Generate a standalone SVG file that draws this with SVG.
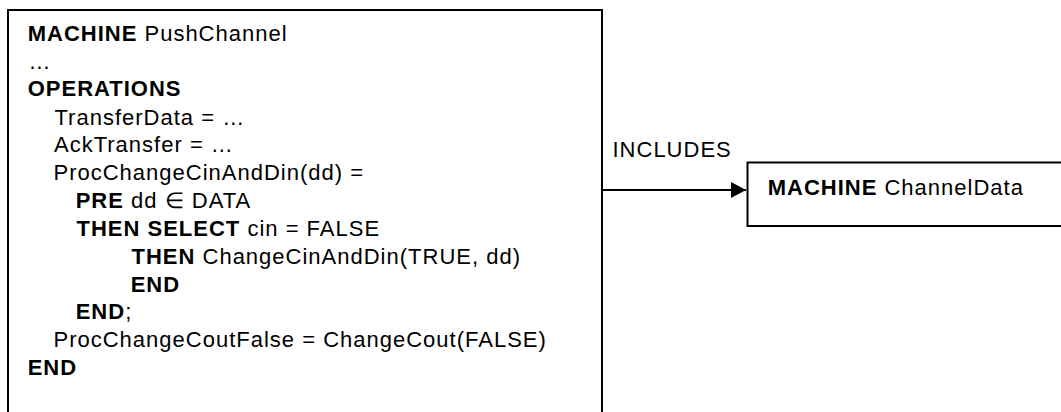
<svg xmlns="http://www.w3.org/2000/svg" width="1061" height="412" viewBox="0 0 1061 412">
  <style>
    .box { fill: #ffffff; stroke: #000000; stroke-width: 2; }
    .t { font-family: "Liberation Sans", Arial, sans-serif; font-size: 22px; letter-spacing: 1px; fill: #000000; }
    .b { font-weight: bold; }
    .edge { stroke: #000000; stroke-width: 2; fill: none; }
  </style>
  <defs>
    <marker id="arrow" markerUnits="userSpaceOnUse" markerWidth="16" markerHeight="16" refX="15" refY="8" orient="auto">
      <path d="M0,0 L15,8 L0,16 Z" fill="#000000"/>
    </marker>
  </defs>

  <rect width="1061" height="412" fill="#ffffff"/>

  <!-- PushChannel machine -->
  <g id="push-channel">
    <rect class="box" x="8" y="10" width="594" height="440"/>
    <text class="t" x="27.7" y="41"><tspan class="b">MACHINE</tspan> PushChannel</text>
    <text class="t" x="28.5" y="69">…</text>
    <text class="t b" x="27.7" y="96">OPERATIONS</text>
    <text class="t" x="54.5" y="124.5">TransferData = …</text>
    <text class="t" x="54" y="152">AckTransfer = …</text>
    <text class="t" x="53.5" y="180">ProcChangeCinAndDin(dd) =</text>
    <text class="t" x="75.7" y="207.5"><tspan class="b">PRE</tspan> dd ∈ DATA</text>
    <text class="t" x="76.5" y="235.5"><tspan class="b">THEN SELECT</tspan> cin = FALSE</text>
    <text class="t" x="131.5" y="263.5"><tspan class="b">THEN</tspan> ChangeCinAndDin(TRUE, dd)</text>
    <text class="t b" x="130.7" y="291.5">END</text>
    <text class="t" x="75.7" y="319"><tspan class="b">END</tspan>;</text>
    <text class="t" x="53.5" y="347">ProcChangeCoutFalse = ChangeCout(FALSE)</text>
    <text class="t b" x="27.7" y="375">END</text>
  </g>

  <!-- ChannelData machine -->
  <g id="channel-data">
    <rect class="box" x="747.5" y="162.5" width="340" height="63.5"/>
    <text class="t" x="767.7" y="195"><tspan class="b">MACHINE</tspan> ChannelData</text>
  </g>

  <!-- INCLUDES connector -->
  <g id="connectors">
    <line class="edge" x1="602" y1="190" x2="746" y2="190" marker-end="url(#arrow)"/>
    <text class="t" x="612.5" y="157">INCLUDES</text>
  </g>
</svg>
